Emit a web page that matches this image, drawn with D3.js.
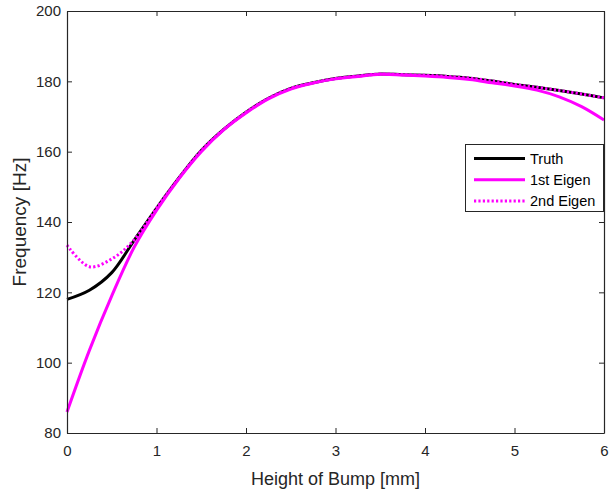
<!DOCTYPE html>
<html>
<head>
<meta charset="utf-8">
<script src="https://cdn.jsdelivr.net/npm/d3@7"></script>
<style>
  body { margin: 0; background: #fff; }
  text { font-family: "Liberation Sans", Arial, Helvetica, sans-serif; }
</style>
</head>
<body>
<svg id="chart" width="610" height="492"></svg>
<script>
// Bump height samples [mm]
const heights = [0, 0.25, 0.5, 0.75, 1, 1.25, 1.5, 1.75, 2, 2.25, 2.5, 2.75, 3,
                 3.25, 3.5, 3.75, 4, 4.25, 4.5, 4.75, 5, 5.25, 5.5, 5.75, 6];
// Natural frequency [Hz]
const truth = [118.0, 120.6, 125.6, 134.8, 143.9, 152.5, 160.3, 166.3, 171.2, 175.2,
               178.0, 179.6, 180.8, 181.5, 182.1, 181.9, 181.7, 181.4, 180.9, 180.1,
               179.1, 178.3, 177.4, 176.4, 175.3];
const eigen1 = [86.0, 103.5, 119.0, 132.8, 143.3, 152.3, 160.0, 166.2, 171.0, 175.0,
                177.8, 179.5, 180.7, 181.4, 182.0, 181.8, 181.5, 181.1, 180.5, 179.6,
                178.7, 177.5, 175.6, 172.8, 169.0];
const eigen2 = [133.4, 127.3, 129.5, 134.9, 143.9, 152.5, 160.3, 166.3, 171.2, 175.2,
                178.0, 179.6, 180.8, 181.5, 182.1, 181.9, 181.7, 181.4, 180.9, 180.1,
                179.1, 178.3, 177.4, 176.4, 175.3];
const xTicks = [0, 1, 2, 3, 4, 5, 6];
const yTicks = [80, 100, 120, 140, 160, 180, 200];
const seriesNames = ["Truth", "1st Eigen", "2nd Eigen"];

const svg = d3.select("#chart");
const axisColor = "#262626";
const m = { left: 67, right: 604, top: 11, bottom: 433 };

const x = d3.scaleLinear().domain([0, 6]).range([m.left, m.right]);
const y = d3.scaleLinear().domain([80, 200]).range([m.bottom, m.top]);

const series = [
  { name: seriesNames[0], values: truth,  color: "#000000", dash: null },
  { name: seriesNames[1], values: eigen1, color: "#ff00ff", dash: null },
  { name: seriesNames[2], values: eigen2, color: "#ff00ff", dash: "2.2,2.2" }
];

// Curves
const line = d3.line()
  .x(d => x(d[0]))
  .y(d => y(d[1]))
  .curve(d3.curveCatmullRom.alpha(0.5));

const plot = svg.append("g");
series.forEach(s => {
  plot.append("path")
    .datum(heights.map((h, i) => [h, s.values[i]]))
    .attr("fill", "none")
    .attr("stroke", s.color)
    .attr("stroke-width", 3)
    .attr("stroke-dasharray", s.dash)
    .attr("d", line);
});

// Axes (ticks pointing inward, box on all four sides)
function styleAxis(g) {
  g.selectAll("path").attr("stroke", axisColor).attr("stroke-width", 1.2);
  g.selectAll("line").attr("stroke", axisColor).attr("stroke-width", 1);
  g.selectAll("text").attr("fill", axisColor).style("font-size", "15px");
}

const xAxis = svg.append("g")
  .attr("transform", `translate(0,${m.bottom})`)
  .call(d3.axisBottom(x).tickValues(xTicks).tickSize(-5).tickSizeOuter(0).tickPadding(12).tickFormat(d3.format("d")));
styleAxis(xAxis);

const yAxis = svg.append("g")
  .attr("transform", `translate(${m.left},0)`)
  .call(d3.axisLeft(y).tickValues(yTicks).tickSize(-5).tickSizeOuter(0).tickPadding(6).tickFormat(d3.format("d")));
styleAxis(yAxis);

const xTop = svg.append("g")
  .attr("transform", `translate(0,${m.top})`)
  .call(d3.axisTop(x).tickValues(xTicks).tickSize(-5).tickSizeOuter(0).tickFormat(""));
styleAxis(xTop);

const yRight = svg.append("g")
  .attr("transform", `translate(${m.right},0)`)
  .call(d3.axisRight(y).tickValues(yTicks).tickSize(-5).tickSizeOuter(0).tickFormat(""));
styleAxis(yRight);

// Axis titles
svg.append("text")
  .attr("x", (m.left + m.right) / 2)
  .attr("y", 485)
  .attr("text-anchor", "middle")
  .attr("fill", axisColor)
  .style("font-size", "18px")
  .text("Height of Bump [mm]");

svg.append("text")
  .attr("transform", `translate(26,${(m.top + m.bottom) / 2}) rotate(-90)`)
  .attr("text-anchor", "middle")
  .attr("fill", axisColor)
  .style("font-size", "19px")
  .text("Frequency [Hz]");

// Legend
const lg = svg.append("g");
lg.append("rect")
  .attr("x", 465.5).attr("y", 144.5)
  .attr("width", 138).attr("height", 67)
  .attr("fill", "#fff")
  .attr("stroke", axisColor)
  .attr("stroke-width", 1);

series.forEach((s, i) => {
  const ly = 158.5 + i * 21.2;
  lg.append("line")
    .attr("x1", 474).attr("x2", 525)
    .attr("y1", ly).attr("y2", ly)
    .attr("stroke", s.color)
    .attr("stroke-width", 3)
    .attr("stroke-dasharray", s.dash);
  lg.append("text")
    .attr("x", 530).attr("y", ly + 5)
    .attr("fill", "#000")
    .style("font-size", "14.5px")
    .text(s.name);
});
</script>
</body>
</html>
